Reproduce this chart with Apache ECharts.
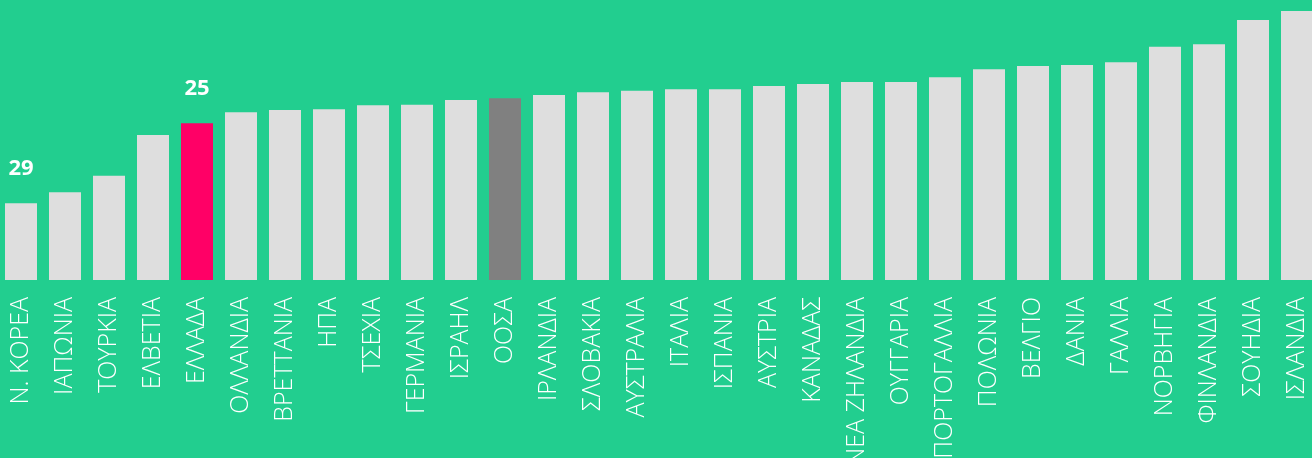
<!DOCTYPE html>
<html>
<head>
<meta charset="utf-8">
<script src="https://cdn.jsdelivr.net/npm/echarts@6/dist/echarts.min.js"></script>
<style>
html,body{margin:0;padding:0;background:#22CE8F;}
#chart{width:1312px;height:458px;}
</style>
</head>
<body>
<div id="chart"></div>
<script>
const categories = ['Ν. ΚΟΡΕΑ','ΙΑΠΩΝΙΑ','ΤΟΥΡΚΙΑ','ΕΛΒΕΤΙΑ','ΕΛΛΑΔΑ','ΟΛΛΑΝΔΙΑ','ΒΡΕΤΤΑΝΙΑ','ΗΠΑ','ΤΣΕΧΙΑ','ΓΕΡΜΑΝΙΑ','ΙΣΡΑΗΛ','ΟΟΣΑ','ΙΡΛΑΝΔΙΑ','ΣΛΟΒΑΚΙΑ','ΑΥΣΤΡΑΛΙΑ','ΙΤΑΛΙΑ','ΙΣΠΑΝΙΑ','ΑΥΣΤΡΙΑ','ΚΑΝΑΔΑΣ','ΝΕΑ ΖΗΛΑΝΔΙΑ','ΟΥΓΓΑΡΙΑ','ΠΟΡΤΟΓΑΛΛΙΑ','ΠΟΛΩΝΙΑ','ΒΕΛΓΙΟ','ΔΑΝΙΑ','ΓΑΛΛΙΑ','ΝΟΡΒΗΓΙΑ','ΦΙΝΛΑΝΔΙΑ','ΣΟΥΗΔΙΑ','ΙΣΛΑΝΔΙΑ'];
const values = [7.67,8.77,10.43,14.5,15.67,16.77,17.0,17.07,17.47,17.53,18.0,18.17,18.5,18.77,18.93,19.07,19.07,19.4,19.6,19.8,19.8,20.27,21.07,21.4,21.5,21.77,23.33,23.57,26.0,26.9];
const rankLabels = ['29','','','','25','','','','','','','','','','','','','','','','','','','','','','','','',''];
const highlightGreece = 'ΕΛΛΑΔΑ';
const highlightOECD = 'ΟΟΣΑ';

const chart = echarts.init(document.getElementById('chart'), null, {renderer:'canvas'});
chart.setOption({
  backgroundColor: '#22CE8F',
  animation: false,
  grid: {left: -1, top: 0, width: 1320, height: 280, containLabel: false, outerBoundsMode: 'none'},
  xAxis: {
    type: 'category',
    data: categories,
    axisLine: {show: false},
    axisTick: {show: false},
    axisLabel: {
      rotate: 90,
      interval: 0,
      margin: 17,
      color: '#ffffff',
      fontFamily: 'Open Sans',
      fontWeight: 300,
      fontSize: 25
    }
  },
  yAxis: {
    type: 'value',
    min: 0,
    max: 28,
    show: false,
    splitLine: {show: false}
  },
  series: [{
    type: 'bar',
    barWidth: 32,
    data: values.map((v, i) => ({
      value: v,
      itemStyle: {
        color: categories[i] === highlightGreece ? '#FF0066' :
               categories[i] === highlightOECD ? '#808080' : '#DEDEDE'
      }
    })),
    label: {
      show: true,
      position: 'top',
      distance: 24,
      color: '#ffffff',
      fontFamily: 'Open Sans',
      fontWeight: 'bold',
      fontSize: 22,
      formatter: p => rankLabels[p.dataIndex]
    }
  }]
});
</script>
</body>
</html>
